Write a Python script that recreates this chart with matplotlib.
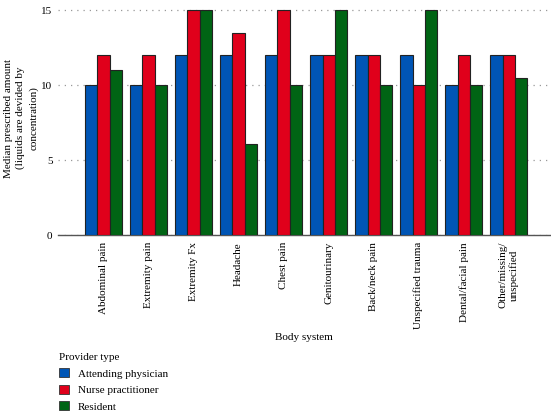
import numpy as np
import matplotlib.pyplot as plt
from matplotlib.patches import Patch

plt.rcParams['font.family'] = ['Liberation Serif', 'DejaVu Serif']

# Data
categories = ['Abdominal pain', 'Extremity pain', 'Extremity Fx', 'Headache', 'Chest pain',
              'Genitourinary', 'Back/neck pain', 'Unspecified trauma', 'Dental/facial pain',
              'Other/missing/\nunspecified']
attending = [10, 10, 12, 12, 12, 12, 12, 12, 10, 12]
nurse = [12, 12, 15, 13.5, 15, 12, 12, 10, 12, 12]
resident = [11, 10, 15, 6.1, 10, 15, 10, 15, 10, 10.5]

series_names = ['Attending physician', 'Nurse practitioner', 'Resident']
colors = ['#0055b5', '#e0001b', '#006414']

fig = plt.figure(figsize=(5.51, 4.13), dpi=100)
ax = fig.add_axes([58 / 551, 1 - 235 / 413, (551 - 58) / 551, 235 / 413])

x = np.arange(len(categories))
w = 0.27
for i, vals in enumerate([attending, nurse, resident]):
    ax.bar(x + (i - 1) * w, vals, w, color=colors[i], edgecolor='#222222', linewidth=0.8, zorder=3)

ax.set_xlim(-1.01, 9.94)
ax.set_ylim(0, 15.7)
ax.set_yticks([0, 5, 10, 15])
ax.set_xticks(x)
ax.set_xticklabels(categories, rotation=90, fontsize=8, va='top', ha='center')
ax.tick_params(axis='both', length=0, labelsize=8)
ax.tick_params(axis='y', pad=4)
ax.tick_params(axis='x', pad=5)
ax.grid(axis='y', linestyle=(0, (1, 4)), color='#999999', linewidth=0.9, zorder=0)

for s in ['top', 'right', 'left']:
    ax.spines[s].set_visible(False)
ax.spines['bottom'].set_color('#555555')
ax.spines['bottom'].set_linewidth(1.0)

fig.text(21 / 551, 1 - 118 / 413,
         'Median prescribed amount\n(liquids are devided by\nconcentration)',
         rotation=90, ha='center', va='center', fontsize=8, linespacing=1.45,
         multialignment='center')
fig.text(304 / 551, 1 - 338 / 413, 'Body system', ha='center', va='center', fontsize=8)

handles = [Patch(facecolor=c, edgecolor='#333333', linewidth=0.6) for c in colors]
leg = fig.legend(handles, series_names, title='Provider type', loc='upper left',
                 bbox_to_anchor=(59 / 551, 1 - 353 / 413), frameon=False, fontsize=8,
                 title_fontsize=8, alignment='left', borderpad=0, borderaxespad=0,
                 handlelength=0.9, handleheight=0.9, handletextpad=0.8, labelspacing=0.55)

fig.savefig('out.png', dpi=100)
